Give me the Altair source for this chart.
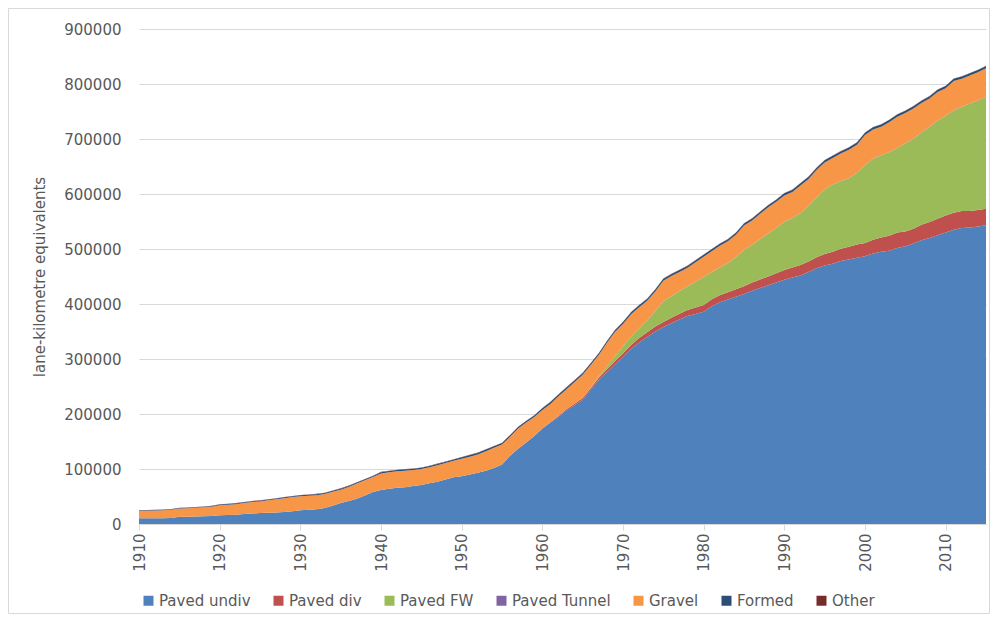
import altair as alt
import pandas as pd

years = list(range(1910, 2016))

series_names = ["Paved undiv", "Paved div", "Paved FW", "Paved Tunnel", "Gravel", "Formed", "Other"]
series_colors = ["#4F81BD", "#C0504D", "#9BBB59", "#8064A2", "#F79646", "#2C4D75", "#772C2A"]

paved_undiv = [
    10500, 10500, 10500, 10500, 11000, 13000, 13000, 13500, 14000, 14500,
    16000, 16500, 17000, 18000, 19000, 20000, 20500, 21000, 22000, 23000,
    25000, 26000, 27000, 29000, 33000, 38000, 42000, 46000, 52000, 58000,
    62000, 64000, 66000, 67000, 69000, 71000, 74000, 77000, 81000, 85000,
    87000, 90000, 93000, 97000, 102000, 108000, 124000, 137000, 148000, 160000,
    173000, 184000, 195000, 207000, 216000, 226000, 244000, 262000, 276000, 290000,
    303000, 318000, 330000, 340000, 350000, 358000, 365000, 372000, 378000, 382000,
    386000, 396000, 403000, 408000, 413000, 418000, 424000, 429000, 434000, 439000,
    444000, 448000, 452000, 458000, 465000, 470000, 473000, 478000, 481000, 484000,
    487000, 492000, 495000, 497000, 502000, 505000, 510000, 516000, 520000, 525000,
    530000, 535000, 538000, 539000, 541000, 543000,
]

paved_div = [
    0, 0, 0, 0, 0, 0, 0, 0, 0, 0,
    0, 0, 0, 0, 0, 0, 0, 0, 0, 0,
    0, 0, 0, 0, 0, 0, 0, 0, 0, 0,
    0, 0, 0, 0, 0, 0, 0, 0, 0, 0,
    0, 0, 0, 0, 0, 0, 0, 0, 0, 0,
    1000, 1200, 1500, 2000, 2500, 3000, 3500, 4000, 5000, 6000,
    7000, 7500, 8000, 8500, 9000, 9500, 10000, 10500, 11000, 11500,
    12000, 12500, 13000, 13500, 14000, 14500, 15000, 15500, 16000, 17000,
    18000, 18500, 19000, 19500, 20000, 21000, 22000, 22500, 23000, 24000,
    24000, 25000, 26000, 27000, 28000, 27000, 27000, 28000, 29000, 30000,
    31000, 31000, 31000, 30000, 30000, 30000,
]

paved_fw = [
    0, 0, 0, 0, 0, 0, 0, 0, 0, 0,
    0, 0, 0, 0, 0, 0, 0, 0, 0, 0,
    0, 0, 0, 0, 0, 0, 0, 0, 0, 0,
    0, 0, 0, 0, 0, 0, 0, 0, 0, 0,
    0, 0, 0, 0, 0, 0, 0, 0, 0, 0,
    0, 0, 0, 0, 0, 0, 500, 2000, 5000, 9000,
    13000, 15000, 17500, 21500, 28000, 37000, 39000, 41000, 43000, 46500,
    51000, 49500, 50000, 52500, 58000, 65500, 68000, 73500, 78000, 82000,
    87000, 89500, 94000, 100500, 108000, 117000, 122000, 122500, 124000, 130000,
    141000, 147000, 149000, 152000, 153000, 160000, 163000, 168000, 173000, 178000,
    181000, 186000, 189000, 195000, 199000, 203000,
]

paved_tunnel = [
    0, 0, 0, 0, 0, 0, 0, 0, 0, 0,
    0, 0, 0, 0, 0, 0, 0, 0, 0, 0,
    0, 0, 0, 0, 0, 0, 0, 0, 0, 0,
    0, 0, 0, 0, 0, 0, 0, 0, 0, 0,
    0, 0, 0, 0, 0, 0, 0, 0, 0, 0,
    200, 200, 200, 200, 200, 200, 200, 200, 200, 200,
    300, 300, 300, 300, 300, 300, 300, 300, 300, 300,
    400, 400, 400, 400, 400, 400, 400, 400, 400, 400,
    500, 500, 500, 500, 500, 500, 500, 500, 500, 500,
    500, 500, 500, 500, 500, 500, 500, 500, 500, 500,
    500, 500, 500, 500, 500, 500,
]

gravel = [
    13000, 13500, 14000, 14500, 15000, 15000, 15500, 16000, 16500, 17000,
    18000, 18500, 19000, 20000, 21000, 21000, 22500, 24000, 25000, 26000,
    25500, 25500, 25500, 25500, 25500, 24500, 25500, 27500, 27500, 27500,
    30000, 30000, 30000, 30000, 29000, 29000, 29000, 30000, 30000, 30000,
    31500, 32500, 33500, 35500, 36500, 36500, 34500, 36500, 36500, 34500,
    33000, 33000, 35500, 36000, 39500, 42000, 41000, 39000, 43000, 44000,
    40500, 40500, 38500, 35500, 35500, 37500, 36500, 34500, 33500, 35500,
    36500, 37500, 39500, 39500, 40500, 44500, 44500, 45500, 47500, 47500,
    48000, 47000, 50000, 49000, 50000, 49000, 48000, 50000, 52000, 51000,
    55000, 53000, 52000, 54000, 57000, 55000, 55000, 53000, 51000, 52000,
    50000, 53000, 51000, 51000, 51000, 52000,
]

formed = [
    1000, 1000, 1000, 1000, 1000, 1000, 1000, 1000, 1000, 1000,
    1500, 1500, 1500, 1500, 1500, 1500, 1500, 1500, 1500, 1500,
    1800, 1800, 1800, 1800, 1800, 1800, 1800, 1800, 1800, 1800,
    2300, 2300, 2300, 2300, 2300, 2300, 2300, 2300, 2300, 2300,
    2800, 2800, 2800, 2800, 2800, 2800, 2800, 2800, 2800, 2800,
    3200, 3200, 3200, 3200, 3200, 3200, 3200, 3200, 3200, 3200,
    3500, 3500, 3500, 3500, 3500, 3500, 3500, 3500, 3500, 3500,
    3600, 3600, 3600, 3600, 3600, 3600, 3600, 3600, 3600, 3600,
    4000, 4000, 4000, 4000, 4000, 4000, 4000, 4000, 4000, 4000,
    4000, 4000, 4000, 4000, 4000, 4000, 4000, 4000, 4000, 4000,
    4000, 4000, 4000, 4000, 4000, 4000,
]

other = [
    500, 500, 500, 500, 500, 500, 500, 500, 500, 500,
    500, 500, 500, 500, 500, 500, 500, 500, 500, 500,
    500, 500, 500, 500, 500, 500, 500, 500, 500, 500,
    500, 500, 500, 500, 500, 500, 500, 500, 500, 500,
    500, 500, 500, 500, 500, 500, 500, 500, 500, 500,
    500, 500, 500, 500, 500, 500, 500, 500, 500, 500,
    500, 500, 500, 500, 500, 500, 500, 500, 500, 500,
    500, 500, 500, 500, 500, 500, 500, 500, 500, 500,
    500, 500, 500, 500, 500, 500, 500, 500, 500, 500,
    500, 500, 500, 500, 500, 500, 500, 500, 500, 500,
    500, 500, 500, 500, 500, 500,
]

x_tick_values = [1910, 1920, 1930, 1940, 1950, 1960, 1970, 1980, 1990, 2000, 2010]
y_tick_values = [0, 100000, 200000, 300000, 400000, 500000, 600000, 700000, 800000, 900000]

all_series = [paved_undiv, paved_div, paved_fw, paved_tunnel, gravel, formed, other]
rows = []
for idx, (name, vals) in enumerate(zip(series_names, all_series)):
    for yr, v in zip(years, vals):
        rows.append({"year": yr, "value": v, "series": name, "order": idx})
df = pd.DataFrame(rows)

FONT = "DejaVu Sans"
GREY = "#595959"
GRID = "#d9d9d9"

areas = alt.Chart(df).mark_area(interpolate="linear").encode(
    x=alt.X(
        "year:Q",
        scale=alt.Scale(domain=[1910, 2015], nice=False, zero=False),
        axis=alt.Axis(
            values=x_tick_values, format="d", labelAngle=-90, grid=False,
            domainColor=GRID, tickColor=GRID, tickSize=6, labelPadding=3,
            labelColor=GREY, labelFont=FONT, labelFontSize=15, title=None,
        ),
    ),
    y=alt.Y(
        "value:Q",
        stack="zero",
        scale=alt.Scale(domain=[0, 900000], nice=False),
        axis=alt.Axis(
            values=y_tick_values, format="d", grid=True, gridColor=GRID,
            domain=False, ticks=False, labelPadding=18,
            labelColor=GREY, labelFont=FONT, labelFontSize=15,
            title="lane-kilometre equivalents", titleFont=FONT, titleFontSize=15,
            titleFontWeight="normal", titleColor=GREY, titlePadding=16,
        ),
    ),
    color=alt.Color(
        "series:N",
        scale=alt.Scale(domain=series_names, range=series_colors),
        legend=alt.Legend(
            orient="none", legendX=2, legendY=564, direction="horizontal",
            title=None, symbolType="square", symbolSize=100, symbolStrokeWidth=0,
            labelFont=FONT, labelFontSize=15, labelColor=GREY,
            columnPadding=20, labelOffset=3, padding=0,
        ),
    ),
    order=alt.Order("order:Q", sort="ascending"),
)

border = alt.Chart(pd.DataFrame({"a": [0]})).mark_rect(
    fill="transparent", stroke=GRID, strokeWidth=1
).encode(
    x=alt.value(-130.5), x2=alt.value(850.5), y=alt.value(-20.5), y2=alt.value(584.5)
)

chart = alt.layer(border, areas).properties(
    width=847,
    height=495,
    padding={"left": 131, "top": 21, "right": 4, "bottom": 90},
    autosize=alt.AutoSizeParams(type="none"),
).configure_view(stroke=None)

chart.save("out.html", embed_options={"renderer": "svg", "actions": False})
